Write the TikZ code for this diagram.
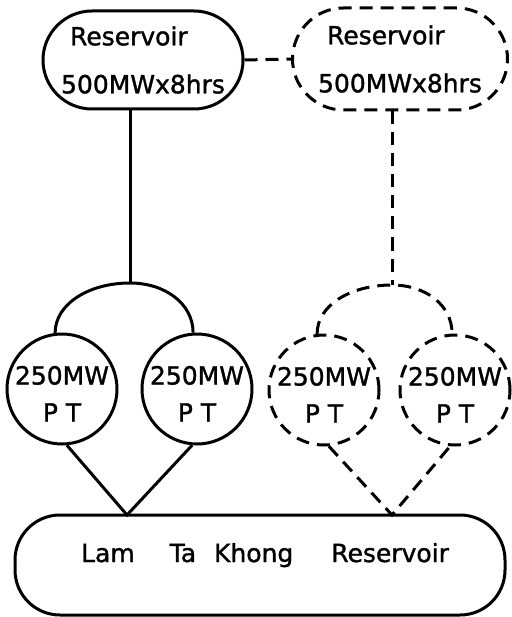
\documentclass[tikz,border=0pt]{standalone}
\usepackage{fontspec}
\setmainfont{DejaVu Sans}
\newfontfamily\lblfont[FakeBold=1.3]{DejaVu Sans}
\begin{document}
\begin{tikzpicture}[x=1pt,y=-1pt, line width=3pt,
  dsh/.style={dash pattern=on 13pt off 8pt},
  resbox/.style={draw, rectangle, align=left, inner sep=0pt, font=\lblfont\fontsize{25}{48}\selectfont},
  ptc/.style={draw, circle, minimum size=110pt, inner sep=-8pt, align=center, font=\lblfont\fontsize{25}{37}\selectfont},
  lakebox/.style={draw, rectangle, minimum width=490pt, minimum height=100pt, rounded corners=45pt, inner sep=0pt, text height=19pt, text depth=25pt, font=\lblfont\fontsize{25}{30}\selectfont}
]
\useasboundingbox (0,0) rectangle (511,617);

\node[resbox, minimum width=200pt, minimum height=98pt, rounded corners=49pt] (res1) at (143,60) {\hspace*{9pt}Reservoir\\500MWx8hrs};
\node[resbox, dsh, minimum width=215pt, minimum height=102pt, rounded corners=51pt] (res2) at (400,59) {\hspace*{9pt}Reservoir\\500MWx8hrs};

\node[ptc] (pt1) at (62,389) {\rule{0pt}{28pt}250MW\\P T};
\node[ptc] (pt2) at (197,389) {\rule{0pt}{28pt}250MW\\P T};
\node[ptc, dsh] (pt3) at (324,390) {\rule{0pt}{28pt}250MW\\P T};
\node[ptc, dsh] (pt4) at (455,390) {\rule{0pt}{28pt}250MW\\P T};

\node[lakebox] (lake) at (260,565) {\hspace*{10pt}Lam\hspace{27pt} Ta\hspace{10pt} Khong\hspace{30pt} Reservoir};

\coordinate (j1) at (130,283);
\coordinate (j2) at (392,285);
\coordinate (m1) at (127,515);
\coordinate (m2) at (392,515);

\draw[dsh] (res1.east) -- (res2.west);
\draw (res1.south -| j1) -- (j1);
\draw[dsh] (res2.south -| j2) -- (j2);

\draw (pt1.97) .. controls +(0,-29) and +(-41,0) .. (j1) .. controls +(35,0) and +(0,-29) .. (pt2.94);
\draw[dsh] (pt3.97) .. controls +(0,-29) and +(-41,0) .. (j2) .. controls +(33,0) and +(0,-29) .. (pt4.93);

\draw (pt1.-85) -- (m1) -- (pt2.-95);
\draw[dsh] (pt3.-85) -- (m2) -- (pt4.-95);
\end{tikzpicture}
\end{document}
